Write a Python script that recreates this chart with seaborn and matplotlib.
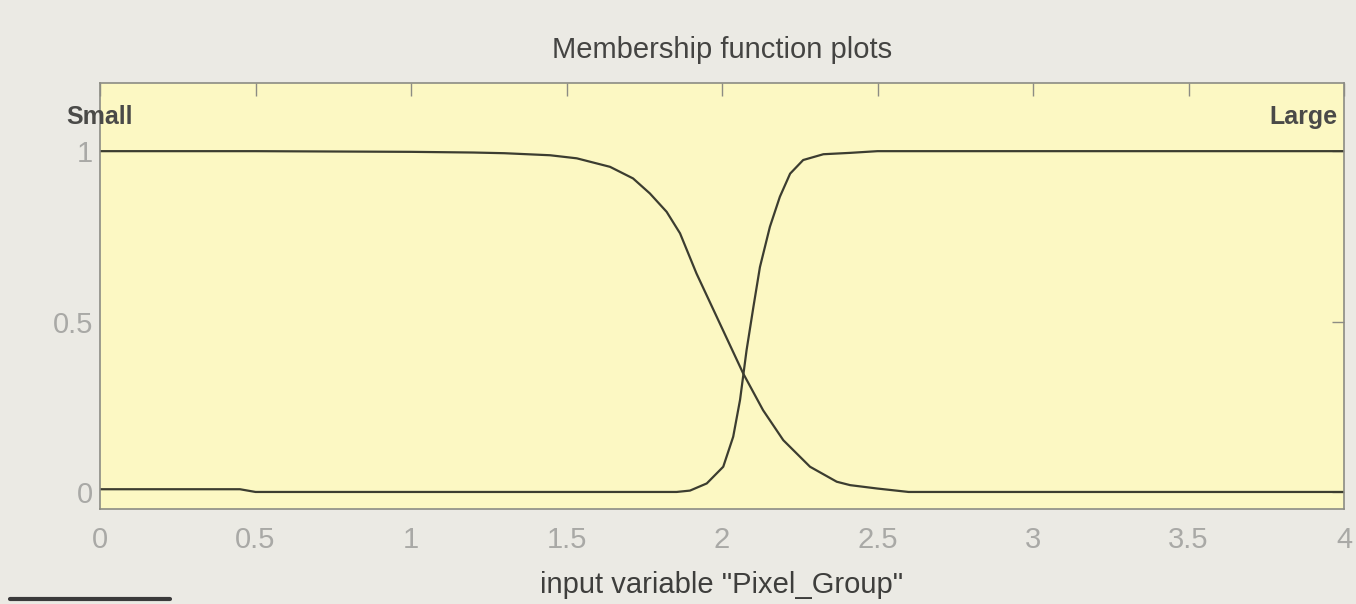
import matplotlib
matplotlib.use("Agg")
import matplotlib.pyplot as plt
import seaborn as sns
import pandas as pd
from matplotlib.lines import Line2D

# ---- data ----
small_x = [0.0, 0.5, 1.0, 1.2, 1.3, 1.447, 1.533, 1.64, 1.714, 1.768, 1.822, 1.865,
           1.918, 1.983, 2.068, 2.132, 2.197, 2.283, 2.369, 2.412, 2.5, 2.6, 3.0, 3.5, 4.0]
small_y = [1.0, 1.0, 0.998, 0.996, 0.994, 0.988, 0.979, 0.954, 0.92, 0.876, 0.822, 0.759,
           0.641, 0.514, 0.348, 0.24, 0.152, 0.074, 0.03, 0.02, 0.01, 0.0, 0.0, 0.0, 0.0]

large_x = [0.0, 0.45, 0.5, 1.0, 1.5, 1.854, 1.897, 1.951, 2.004, 2.036, 2.058, 2.079,
           2.101, 2.122, 2.154, 2.186, 2.219, 2.261, 2.326, 2.412, 2.5, 3.0, 3.5, 4.0]
large_y = [0.008, 0.008, 0.0, 0.0, 0.0, 0.0, 0.004, 0.025, 0.074, 0.162, 0.27, 0.416,
           0.543, 0.66, 0.778, 0.866, 0.934, 0.974, 0.991, 0.995, 1.0, 1.0, 1.0, 1.0]

mf_names = ["Small", "Large"]
x_ticks = [0, 0.5, 1, 1.5, 2, 2.5, 3, 3.5, 4]
x_tick_labels = ["0", "0.5", "1", "1.5", "2", "2.5", "3", "3.5", "4"]
y_ticks = [0, 0.5, 1]
y_tick_labels = ["0", "0.5", "1"]
title = "Membership function plots"
xlabel = 'input variable "Pixel_Group"'

# ---- styling ----
sns.set_theme(style="white")
plt.rcParams["font.family"] = ["Liberation Sans", "DejaVu Sans"]

fig_bg = "#ebeae4"
ax_bg = "#fcf8c3"
line_col = "#3c3d30"
spine_col = "#8c8c84"
tick_lab_col = "#a9a9a6"
text_col = "#4a4a48"

df = pd.concat([
    pd.DataFrame({"x": small_x, "y": small_y, "mf": mf_names[0]}),
    pd.DataFrame({"x": large_x, "y": large_y, "mf": mf_names[1]}),
])

fig = plt.figure(figsize=(13.56, 6.04), dpi=100, facecolor=fig_bg)
ax = fig.add_axes([100 / 1356, 1 - 509 / 604, 1244 / 1356, 426 / 604])
ax.set_facecolor(ax_bg)

sns.lineplot(data=df, x="x", y="y", hue="mf", palette=[line_col, line_col],
             legend=False, linewidth=1.6, ax=ax, sort=False)

ax.set_xlim(0, 4)
ax.set_ylim(-0.05, 1.2)
ax.set_xticks(x_ticks)
ax.set_xticklabels(x_tick_labels)
ax.set_yticks(y_ticks)
ax.set_yticklabels(y_tick_labels)

for s in ax.spines.values():
    s.set_visible(True)
    s.set_color(spine_col)
    s.set_linewidth(1.2)

ax.tick_params(axis="both", direction="in", length=9, width=1.0, color=spine_col,
               top=True, right=True, labelsize=21, labelcolor=tick_lab_col)
ax.tick_params(axis="x", pad=12)
ax.tick_params(axis="y", pad=5)

ax.set_xlabel(xlabel, fontsize=21, color="#3e3e3c")
ax.xaxis.set_label_coords(0.5, -0.145)
ax.set_ylabel("")
ax.set_title(title, fontsize=21, color="#444442", pad=18)

ax.text(0.0, 1.1, mf_names[0], ha="center", va="center", fontsize=18,
        fontweight="bold", color=text_col)
ax.text(3.98, 1.1, mf_names[1], ha="right", va="center", fontsize=18,
        fontweight="bold", color=text_col)

fig.add_artist(Line2D([10 / 1356, 170 / 1356], [1 - 599 / 604, 1 - 599 / 604],
                      transform=fig.transFigure, color="#3a3a3a", linewidth=3))

fig.savefig("out.png", dpi=100, facecolor=fig_bg)
